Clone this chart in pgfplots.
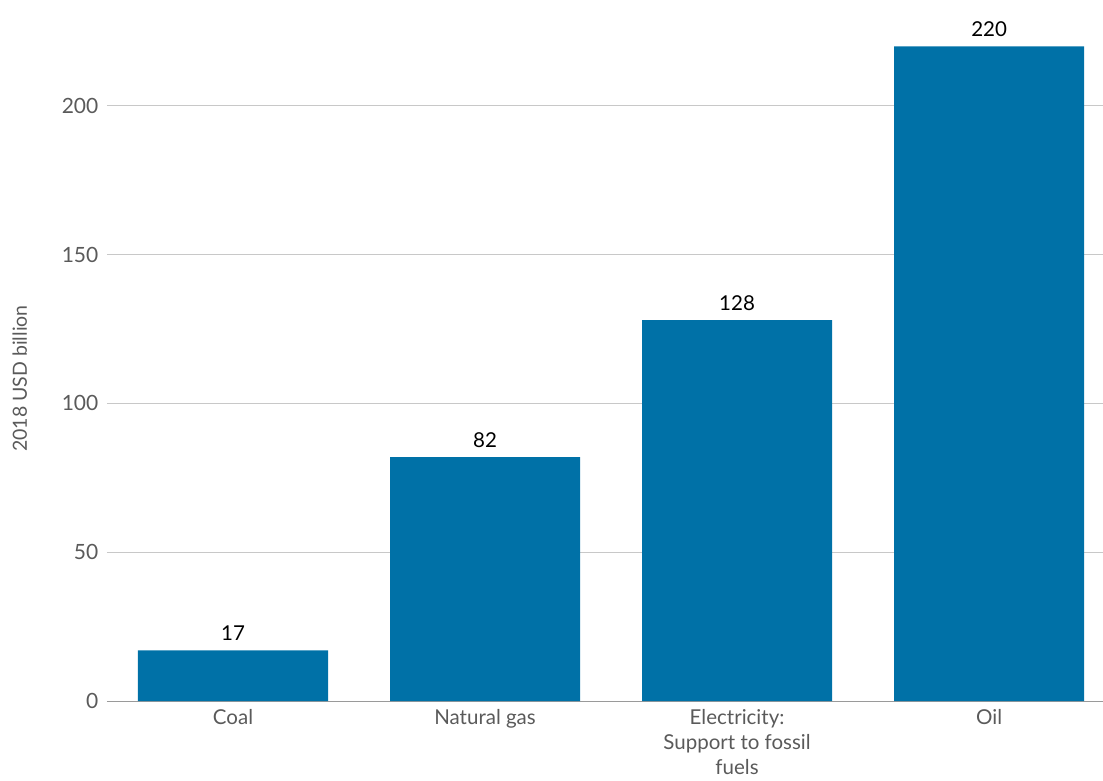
\documentclass[border=0pt]{standalone}
\usepackage{pgfplots}
\pgfplotsset{compat=1.18}
\usepackage{fontspec}
\setmainfont{Lato}
\definecolor{barblue}{HTML}{0071A7}
\definecolor{gridgray}{HTML}{C8C8C8}
\definecolor{axisgray}{HTML}{9A9A9A}
\definecolor{labelgray}{HTML}{5A5A5A}
\begin{document}
\begin{tikzpicture}
\begin{axis}[
  scale only axis,
  width=996bp, height=701bp,
  xmin=-0.5, xmax=3.452,
  ymin=0, ymax=235.6,
  axis x line=bottom, axis y line=left,
  x axis line style={axisgray, line width=1pt, -},
  y axis line style={draw=none},
  xtick={0,1,2,3},
  xticklabels={Coal, Natural gas, {Electricity:\\Support to fossil\\fuels}, Oil},
  x tick label style={font=\fontsize{20.5bp}{25bp}\selectfont, text=labelgray, align=center, yshift=-1bp},
  major tick style={draw=none},
  ytick={0,50,100,150,200},
  ymajorgrids, grid style={gridgray, line width=1pt},
  y tick label style={font=\fontsize{21bp}{24bp}\selectfont, text=labelgray},
  yticklabel style={xshift=-3bp},
  /pgf/number format/assume math mode=true,
  ylabel={2018 USD billion},
  ylabel style={font=\fontsize{19.5bp}{22bp}\selectfont, text=labelgray,
    at={(axis description cs:-0.0875,0.46)}, anchor=center},
  ybar, bar width=0.754, bar shift=0,
  clip=false,
  nodes near coords,
  nodes near coords style={font=\fontsize{20.5bp}{24bp}\selectfont, text=black, yshift=6bp},
]
\addplot[fill=barblue, draw=none] coordinates {(0,17) (1,82) (2,128) (3,220)};
\end{axis}
\pgfresetboundingbox
\path[use as bounding box] (-107bp,-80bp) rectangle (996bp,701bp);
\end{tikzpicture}
\end{document}
